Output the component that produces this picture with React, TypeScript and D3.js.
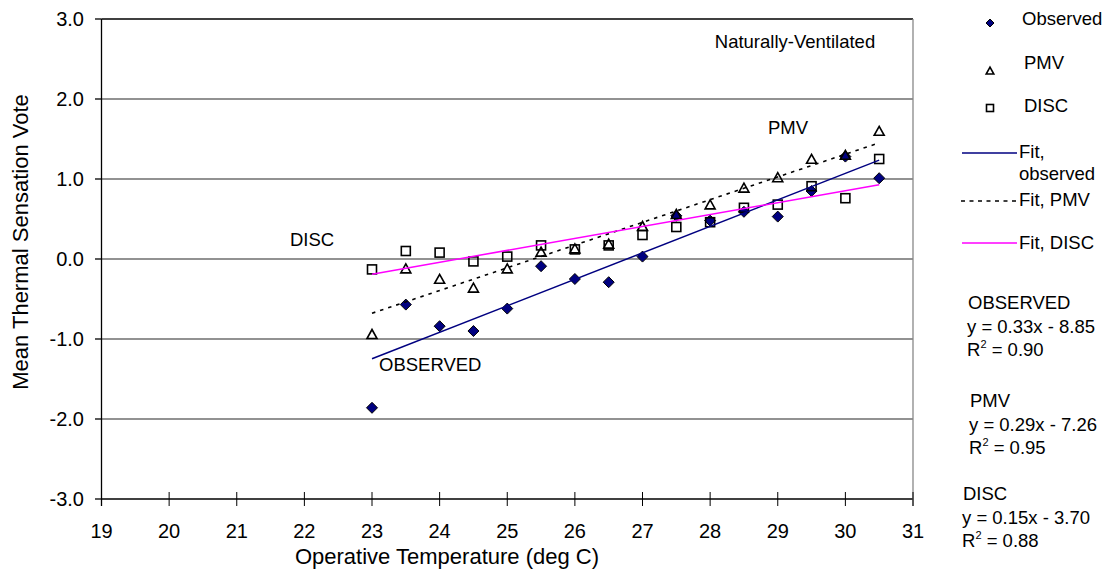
import React from "react";
import * as d3 from "d3";

const temps = [23, 23.5, 24, 24.5, 25, 25.5, 26, 26.5, 27, 27.5, 28, 28.5, 29, 29.5, 30, 30.5];
const observed = [-1.86, -0.57, -0.84, -0.9, -0.62, -0.09, -0.25, -0.29, 0.03, 0.54, 0.48, 0.59, 0.53, 0.85, 1.28, 1.01];
const pmv = [-0.95, -0.13, -0.26, -0.37, -0.13, 0.08, 0.12, 0.18, 0.4, 0.55, 0.67, 0.88, 1.01, 1.24, 1.29, 1.59];
const disc = [-0.13, 0.1, 0.08, -0.03, 0.03, 0.17, 0.12, 0.17, 0.3, 0.4, 0.46, 0.64, 0.68, 0.91, 0.76, 1.25];

const fitRange = [23, 30.5];
const fitObserved = { slope: 0.331, intercept: -8.86 };
const fitPmv = { slope: 0.284, intercept: -7.21 };
const fitDisc = { slope: 0.149, intercept: -3.617 };

const xTicks = [19, 20, 21, 22, 23, 24, 25, 26, 27, 28, 29, 30, 31];
const yTicks = [-3, -2, -1, 0, 1, 2, 3];

const legendItems = ["Observed", "PMV", "DISC"];
const statsBlocks = [
  { name: "OBSERVED", eq: "y = 0.33x - 8.85", r2: "0.90" },
  { name: "PMV", eq: "y = 0.29x - 7.26", r2: "0.95" },
  { name: "DISC", eq: "y = 0.15x - 3.70", r2: "0.88" },
];

const FONT = "'Liberation Sans', Arial, sans-serif";
const FS = 18.5;
const TICK_FS = 20;
const TITLE_FS = 22;

function Diamond({ cx, cy, r }: { cx: number; cy: number; r: number }) {
  return (
    <path
      d={`M${cx},${cy - r}L${cx + r},${cy}L${cx},${cy + r}L${cx - r},${cy}Z`}
      fill="#000080"
      stroke="#000"
      strokeWidth={1}
    />
  );
}
function Triangle({ cx, cy, r }: { cx: number; cy: number; r: number }) {
  return (
    <path
      d={`M${cx},${cy - r}L${cx + r},${cy + r * 0.8}L${cx - r},${cy + r * 0.8}Z`}
      fill="none"
      stroke="#000"
      strokeWidth={1.6}
    />
  );
}
function Square({ cx, cy, r }: { cx: number; cy: number; r: number }) {
  return <rect x={cx - r} y={cy - r} width={2 * r} height={2 * r} fill="none" stroke="#000" strokeWidth={1.6} />;
}

export default function App() {
  const x = d3.scaleLinear().domain([19, 31]).range([101.5, 913]);
  const y = d3.scaleLinear().domain([-3, 3]).range([499, 19]);

  const fitLine = (f: { slope: number; intercept: number }) =>
    d3
      .line<number>()
      .x((t) => x(t))
      .y((t) => y(f.slope * t + f.intercept))(fitRange) as string;

  return (
    <svg
      width={1110}
      height={575}
      style={{ position: "absolute", left: 0, top: 0, background: "#fff" }}
      fontFamily={FONT}
      fontSize={FS}
    >
      {/* gridlines */}
      {yTicks.map((v) => (
        <line
          key={"g" + v}
          x1={x(19)}
          x2={x(31)}
          y1={y(v)}
          y2={y(v)}
          stroke={v === 3 || v === -3 ? "#000" : "#6e6e6e"}
          strokeWidth={1.3}
        />
      ))}
      {/* right border */}
      <line x1={x(31)} x2={x(31)} y1={y(3)} y2={y(-3) + 7} stroke="#888" strokeWidth={1.3} />
      {/* y axis */}
      <line x1={x(19)} x2={x(19)} y1={y(3)} y2={y(-3) + 7} stroke="#000" strokeWidth={1.3} />
      {yTicks.map((v) => (
        <g key={"yt" + v}>
          <line x1={x(19) - 6.5} x2={x(19)} y1={y(v)} y2={y(v)} stroke="#000" strokeWidth={1.3} />
          <text x={84} y={y(v)} dy="0.35em" textAnchor="end" fill="#000" fontSize={TICK_FS}>
            {v.toFixed(1)}
          </text>
        </g>
      ))}
      {xTicks.map((v) => (
        <g key={"xt" + v}>
          <line x1={x(v)} x2={x(v)} y1={y(-3) - 7} y2={y(-3) + 7} stroke="#000" strokeWidth={1} />
          <text x={x(v)} y={538} textAnchor="middle" fill="#000" fontSize={TICK_FS}>
            {v}
          </text>
        </g>
      ))}

      {/* axis titles */}
      <text x={447} y={564} textAnchor="middle" fill="#000" fontSize={TITLE_FS}>
        Operative Temperature (deg C)
      </text>
      <text transform={`translate(28,242) rotate(-90)`} textAnchor="middle" fill="#000" fontSize={TITLE_FS}>
        Mean Thermal Sensation Vote
      </text>

      {/* markers */}
      {temps.map((t, i) => (
        <Diamond key={"o" + i} cx={x(t)} cy={y(observed[i])} r={5.5} />
      ))}
      {temps.map((t, i) => (
        <Triangle key={"p" + i} cx={x(t)} cy={y(pmv[i]) - 0.5} r={5} />
      ))}
      {temps.map((t, i) => (
        <Square key={"d" + i} cx={x(t)} cy={y(disc[i])} r={4.5} />
      ))}

      {/* fit lines */}
      <path d={fitLine(fitObserved)} stroke="#000080" strokeWidth={1.5} fill="none" />
      <path d={fitLine(fitPmv)} stroke="#000" strokeWidth={1.6} strokeDasharray="3.5,5" fill="none" />
      <path d={fitLine(fitDisc)} stroke="#ff00ff" strokeWidth={1.5} fill="none" />

      {/* annotations */}
      <text x={795} y={48} textAnchor="middle" fill="#000">
        Naturally-Ventilated
      </text>
      <text x={788} y={134} textAnchor="middle" fill="#000">
        PMV
      </text>
      <text x={312} y={246} textAnchor="middle" fill="#000">
        DISC
      </text>
      <text x={379} y={371} fill="#000">
        OBSERVED
      </text>

      {/* legend */}
      <Diamond cx={990} cy={23} r={4} />
      <text x={1022} y={25} fill="#000">
        {legendItems[0]}
      </text>
      <Triangle cx={990} cy={71} r={3.8} />
      <text x={1024} y={69} fill="#000">
        {legendItems[1]}
      </text>
      <Square cx={990} cy={108} r={3.5} />
      <text x={1024} y={112} fill="#000">
        {legendItems[2]}
      </text>

      <line x1={962} x2={1017} y1={153} y2={153} stroke="#000080" strokeWidth={1.5} />
      <text x={1019} y={158} fill="#000">
        Fit,
      </text>
      <text x={1019} y={180} fill="#000">
        observed
      </text>
      <line x1={961} x2={1017} y1={201} y2={201} stroke="#000" strokeWidth={1.5} strokeDasharray="4,4.5" />
      <text x={1019} y={206} fill="#000">
        Fit, PMV
      </text>
      <line x1={962} x2={1017} y1={243} y2={243} stroke="#ff00ff" strokeWidth={1.5} />
      <text x={1019} y={249} fill="#000">
        Fit, DISC
      </text>

      {/* stats */}
      {statsBlocks.map((b, i) => {
        const bx = [968, 970, 963][i];
        const by = [309, 407, 500][i];
        return (
          <g key={"s" + i}>
            <text x={bx} y={by} fill="#000">
              {b.name}
            </text>
            <text x={bx - 1} y={by + 24} fill="#000">
              {b.eq}
            </text>
            <text x={bx - 1} y={by + 47} fill="#000">
              R<tspan dy={-8} fontSize={11}>2</tspan>
              <tspan dy={8}> = {b.r2}</tspan>
            </text>
          </g>
        );
      })}
    </svg>
  );
}
